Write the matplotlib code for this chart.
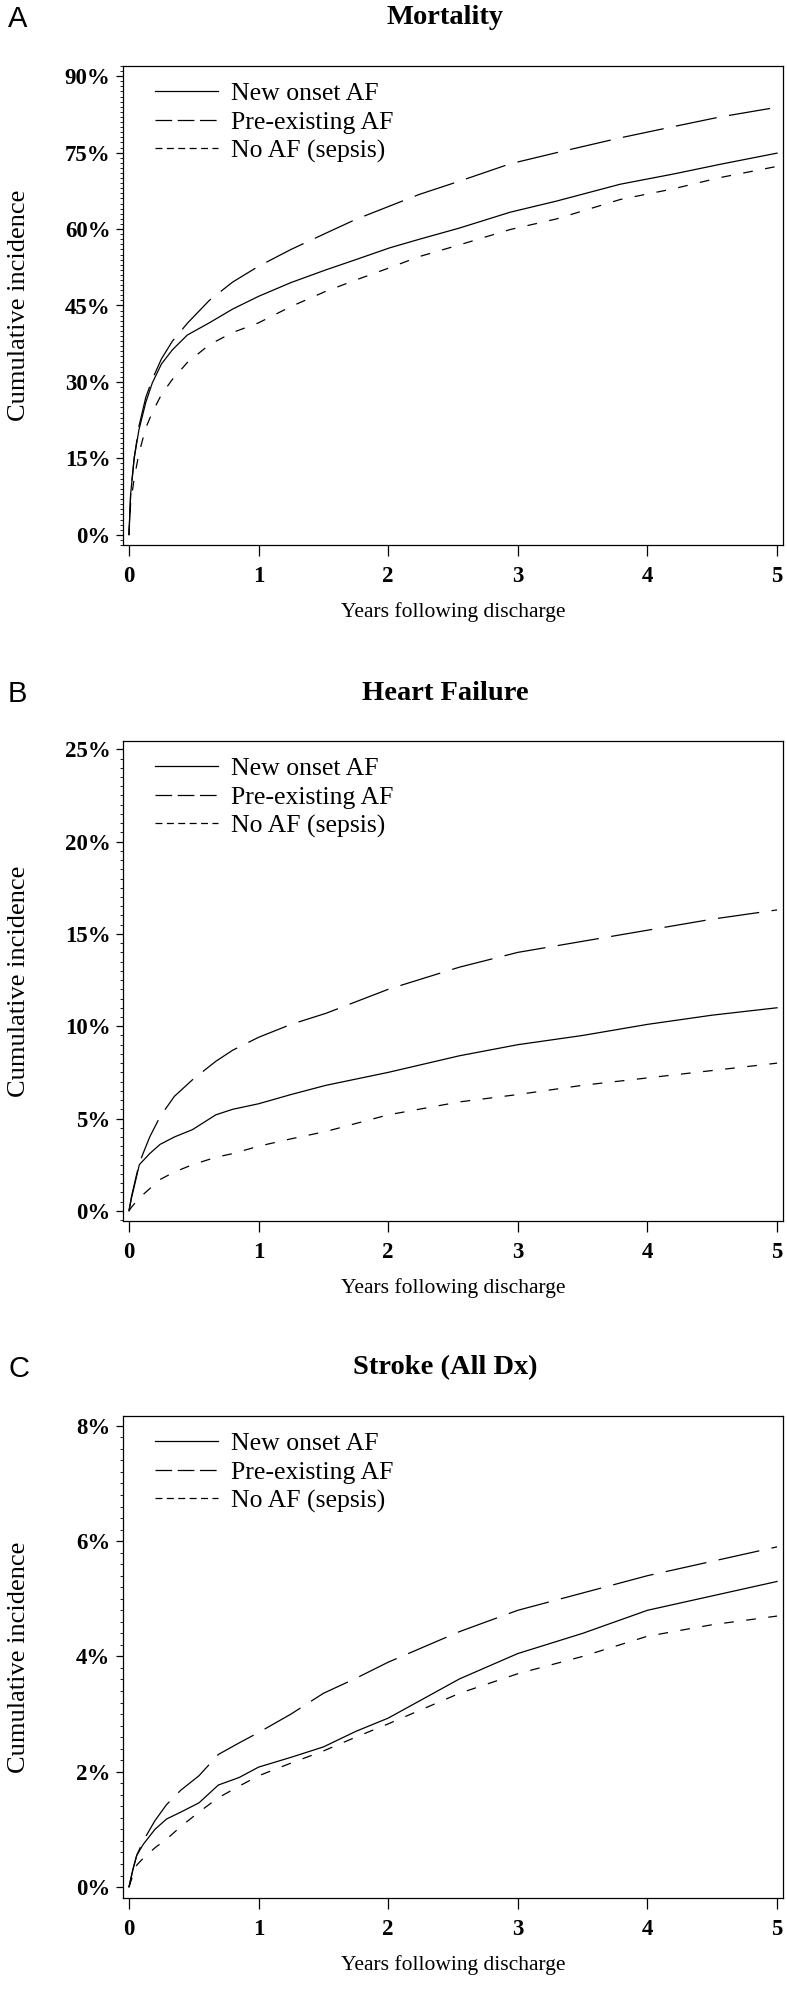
import matplotlib.pyplot as plt
from matplotlib.lines import Line2D
from matplotlib.ticker import MultipleLocator, FuncFormatter

plt.rcParams['font.family'] = ['Liberation Serif', 'DejaVu Serif']
plt.rcParams['lines.scale_dashes'] = False

series_names = ["New onset AF", "Pre-existing AF", "No AF (sepsis)"]

# Mortality (cumulative incidence, %)
mort_years = [0, 0.013, 0.04, 0.077, 0.13, 0.18, 0.25, 0.335, 0.45, 0.62, 0.8, 1.0,
              1.25, 1.52, 1.75, 2.01, 2.24, 2.55, 2.94, 3.3, 3.79, 4.2, 4.56, 5.0]
mort_new = [0, 8, 15, 20.6, 26, 29.8, 33.5, 36.3, 39.2, 41.6, 44.3, 46.8,
            49.5, 52, 54, 56.3, 58, 60.2, 63.3, 65.5, 68.8, 70.8, 72.7, 74.9]
mort_pre = [0, 8, 15, 21.3, 27, 30.5, 34.5, 38.0, 41.5, 46.0, 49.6, 52.7,
            56, 59.2, 61.9, 64.5, 66.8, 69.4, 72.8, 75, 77.9, 80.1, 82, 83.9]
mort_none = [0, 6.2, 11, 16, 21, 24, 27.5, 30.5, 33.8, 37.3, 39.7, 41.6,
             44.8, 47.8, 50, 52.4, 54.6, 56.9, 59.9, 62, 65.8, 67.9, 70.1, 72.3]

# Heart failure
hf_years = [0, 0.02, 0.08, 0.16, 0.24, 0.35, 0.49, 0.67, 0.8, 1.0, 1.25, 1.52,
            2.0, 2.55, 3.0, 3.5, 4.0, 4.5, 5.0]
hf_new = [0, 0.7, 2.5, 3.1, 3.6, 4.0, 4.4, 5.2, 5.5, 5.8, 6.3, 6.8,
          7.5, 8.4, 9.0, 9.5, 10.1, 10.6, 11.0]
hf_pre = [0, 0.8, 2.6, 4.0, 5.1, 6.2, 7.1, 8.1, 8.7, 9.4, 10.1, 10.7,
          12.0, 13.2, 14.0, 14.6, 15.2, 15.8, 16.3]
hf_none = [0, 0.2, 0.7, 1.2, 1.7, 2.1, 2.5, 2.9, 3.1, 3.5, 3.9, 4.3,
           5.2, 5.9, 6.3, 6.8, 7.2, 7.6, 8.0]

# Stroke (all Dx)
st_years = [0, 0.03, 0.06, 0.11, 0.2, 0.29, 0.4, 0.54, 0.69, 0.85, 1.0, 1.25,
            1.5, 1.75, 2.0, 2.55, 3.0, 3.5, 4.0, 4.5, 5.0]
st_new = [0, 0.3, 0.55, 0.74, 1.0, 1.18, 1.3, 1.46, 1.77, 1.9, 2.08, 2.25,
          2.43, 2.7, 2.93, 3.61, 4.05, 4.4, 4.8, 5.05, 5.3]
st_pre = [0, 0.3, 0.55, 0.8, 1.15, 1.43, 1.68, 1.93, 2.3, 2.5, 2.68, 3.0,
          3.36, 3.62, 3.9, 4.43, 4.8, 5.1, 5.4, 5.65, 5.9]
st_none = [0, 0.2, 0.38, 0.5, 0.68, 0.83, 1.05, 1.3, 1.55, 1.75, 1.93, 2.15,
           2.36, 2.6, 2.83, 3.36, 3.7, 4.0, 4.35, 4.55, 4.7]

panels = [
    ("A", "Mortality", mort_years, [mort_new, mort_pre, mort_none], 15, 1, (-2, 92), 66, 545),
    ("B", "Heart Failure", hf_years, [hf_new, hf_pre, hf_none], 5, 0.5, (-0.55, 25.45), 741, 1221),
    ("C", "Stroke (All Dx)", st_years, [st_new, st_pre, st_none], 2, 0.2, (-0.19, 8.17), 1416, 1898),
]

plot_dashes = [None, (30, 9), (7, 9)]
legend_dashes = [None, (12, 4), (5, 3.2)]

W, H = 787, 1992
fig = plt.figure(figsize=(W / 100, H / 100), dpi=100)

for letter, title, years, curves, major, minor, ylim, top, bottom in panels:
    left, right = 123, 783
    ax = fig.add_axes([left / W, 1 - bottom / H, (right - left) / W, (bottom - top) / H])

    for ys, d in zip(curves, plot_dashes):
        line, = ax.plot(years, ys, color='black', lw=0.9)
        if d:
            line.set_dashes(d)

    ax.set_xlim(-0.046, 5.046)
    ax.set_xticks(range(6))
    ax.yaxis.set_major_locator(MultipleLocator(major))
    ax.yaxis.set_minor_locator(MultipleLocator(minor))
    ax.set_ylim(*ylim)
    ax.yaxis.set_major_formatter(FuncFormatter(lambda v, p: f"{v:g}%"))

    ax.tick_params(axis='x', direction='out', length=8, width=0.9, pad=7, labelsize=16.5)
    ax.tick_params(axis='y', which='major', direction='out', length=5, width=0.9, pad=4, labelsize=16.5)
    ax.tick_params(axis='y', which='minor', direction='out', length=2.5, width=0.6)
    for lab in ax.get_xticklabels() + ax.get_yticklabels():
        lab.set_fontweight('bold')
    for sp in ax.spines.values():
        sp.set_linewidth(0.9)

    ax.set_xlabel("Years following discharge", fontsize=15.5)
    ax.xaxis.set_label_coords(0.5, -0.14)
    ax.xaxis.label.set_va('center')
    ax.set_ylabel("Cumulative incidence", fontsize=19)
    ax.yaxis.set_label_coords(-0.158, 0.5)
    ax.yaxis.label.set_va('center')

    handles = []
    for name, d in zip(series_names, legend_dashes):
        h = Line2D([], [], color='black', lw=0.9)
        if d:
            h.set_dashes(d)
        handles.append(h)
    ax.legend(handles, series_names, loc='upper left',
              bbox_to_anchor=((155 - left) / (right - left), 1 - 16 / (bottom - top)),
              frameon=False, fontsize=18.5, handlelength=2.45, handletextpad=0.5,
              labelspacing=0.22, borderpad=0, borderaxespad=0)

    fig.text(445 / W, 1 - (top - 48) / H, title, ha='center', va='center',
             fontsize=20.5, fontweight='bold')
    fig.text(8 / W, 1 - (top - 47) / H, letter, ha='left', va='center',
             fontsize=21, family=['Liberation Sans', 'DejaVu Sans'])

fig.savefig("out.png", dpi=100)
